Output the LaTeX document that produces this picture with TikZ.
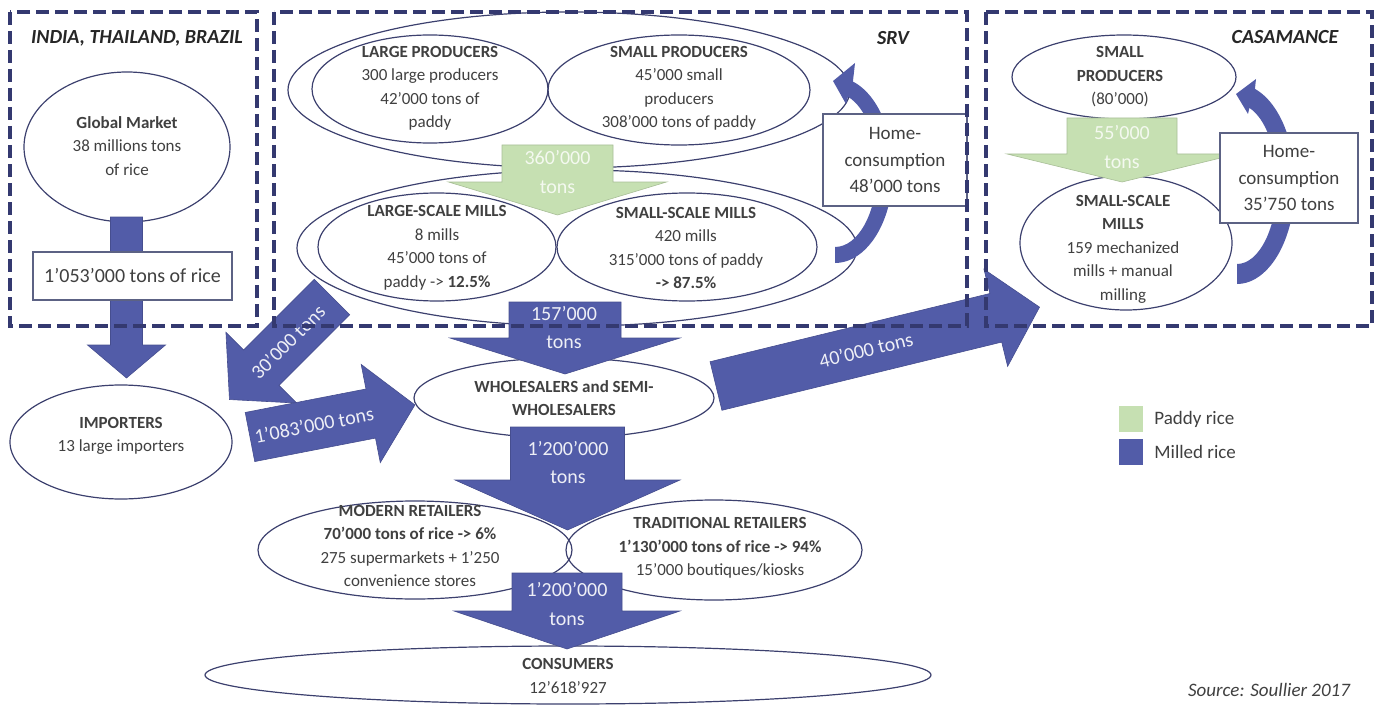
\documentclass[tikz,border=0pt]{standalone}
\usepackage{fontspec}
\setmainfont{Carlito}
\usetikzlibrary{shapes.geometric,positioning}

\definecolor{milled}{RGB}{82,92,168}
\definecolor{paddy}{RGB}{198,224,178}
\definecolor{frame}{RGB}{52,57,112}
\definecolor{rim}{RGB}{60,64,110}
\definecolor{ink}{RGB}{64,64,64}
\definecolor{boxrim}{RGB}{92,98,132}

\tikzset{
  oval/.style={ellipse, draw=rim, line width=1.2pt, inner sep=0pt},
  txt/.style={text=ink, align=center, inner sep=0pt, font=\fontsize{17}{23.5}\selectfont},
  region/.style={draw=frame, line width=3.5pt, dash pattern=on 13pt off 6pt},
  regionname/.style={text=black!85, inner sep=0pt, font=\fontsize{20}{24}\selectfont\bfseries\itshape},
  infobox/.style={draw=boxrim, line width=1.1pt, fill=white, text=ink, align=center, inner sep=0pt, font=\fontsize{19}{26.5}\selectfont},
  flowtxt/.style={text=white!90!milled, align=center, inner sep=0pt, font=\fontsize{20}{28.5}\selectfont},
  paddytxt/.style={flowtxt, text=white!80!paddy},
  key/.style={minimum width=24pt, minimum height=26pt, inner sep=0pt},
  keytxt/.style={text=ink, inner sep=0pt, font=\fontsize{19}{22}\selectfont},
}

% block arrow pointing down: colour, x, top, shoulder, tip, half shaft, half head
\newcommand{\downblock}[7]{%
  \filldraw[fill=#1, draw=#1!85!black, line width=0.6pt] (#2-#6,#3) -- (#2+#6,#3) -- (#2+#6,#4)
    -- (#2+#7,#4) -- (#2,#5) -- (#2-#7,#4) -- (#2-#6,#4) -- cycle;}
% tilted block arrow: tail middle, angle, length
\newcommand{\tiltblock}[3]{%
  \filldraw[fill=milled, draw=milled!85!black, line width=0.6pt, shift={#1}, rotate=#2]
    (0,-25) -- (#3-45,-25) -- (#3-45,-50) -- (#3,0) -- (#3-45,50) -- (#3-45,25) -- (0,25) -- cycle;}

\begin{document}
\begin{tikzpicture}[x=1pt, y=-1pt]
\useasboundingbox (0,0) rectangle (1384,706);

% ovals
\node[oval, minimum width=206pt, minimum height=150pt] (glob) at (127,147) {};
\node[oval, minimum width=222pt, minimum height=114pt] (imp) at (121,442) {};
\node[oval, minimum width=562pt, minimum height=156pt] (prodall) at (569,90) {};
\node[oval, minimum width=236pt, minimum height=108pt] (lprod) at (430,89) {};
\node[oval, minimum width=262pt, minimum height=110pt] (sprod) at (679,90) {};
\node[oval, minimum width=560pt, minimum height=156pt] (millall) at (577,248) {};
\node[oval, minimum width=238pt, minimum height=108pt] (lmill) at (437,247) {};
\node[oval, minimum width=260pt, minimum height=108pt] (smill) at (687,247) {};
\node[oval, minimum width=300pt, minimum height=80pt] (whole) at (564,398) {};
\node[oval, minimum width=314pt, minimum height=98pt] (modret) at (415,550) {};
\node[oval, minimum width=296pt, minimum height=100pt] (tradret) at (714,550) {};
\node[oval, minimum width=726pt, minimum height=58pt] (cons) at (568,675) {};
\node[oval, minimum width=224pt, minimum height=84pt] (cprod) at (1124,77) {};
\node[oval, minimum width=212pt, minimum height=134pt] (cmill) at (1126,243) {};

\node[txt] (glob-t) at (127,146) {\textbf{Global Market}\\38 millions tons\\of rice};
\node[txt] (imp-t) at (121,436) {\textbf{IMPORTERS}\\13 large importers};
\node[txt] (lprod-t) at (430,88.5) {\textbf{LARGE PRODUCERS}\\300 large producers\\42’000 tons of\\paddy};
\node[txt] (sprod-t) at (679,88.5) {\textbf{SMALL PRODUCERS}\\45’000 small\\producers\\308’000 tons of paddy};
\node[txt] (lmill-t) at (437,248) {\textbf{LARGE-SCALE MILLS}\\8 mills\\45’000 tons of\\paddy -> \textbf{12.5\%}};
\node[txt] (smill-t) at (686,248) {\textbf{SMALL-SCALE MILLS}\\420 mills\\315’000 tons of paddy\\\textbf{-> 87.5\%}};
\node[txt] (whole-t) at (564,398) {\textbf{WHOLESALERS and SEMI-}\\\textbf{WHOLESALERS}};
\node[txt] (modret-t) at (410,546) {\textbf{MODERN RETAILERS}\\\textbf{70’000 tons of rice -> 6\%}\\275 supermarkets + 1’250\\convenience stores};
\node[txt] (tradret-t) at (720,548) {\textbf{TRADITIONAL RETAILERS}\\\textbf{1’130’000 tons of rice -> 94\%}\\15’000 boutiques/kiosks};
\node[txt] (cons-t) at (568,676) {\textbf{CONSUMERS}\\12’618’927};
\node[txt] (cprod-t) at (1120,77) {\textbf{SMALL}\\\textbf{PRODUCERS}\\(80’000)};
\node[txt] (cmill-t) at (1123,249) {\textbf{SMALL-SCALE}\\\textbf{MILLS}\\159 mechanized\\mills + manual\\milling};

% paddy flows
\downblock{paddy}{557.5}{145}{182}{215}{55.5}{109}
\downblock{paddy}{1122}{118}{154}{182}{55}{115}
% milled flows
\downblock{milled}{126.5}{217}{345}{378}{16}{39}
\downblock{milled}{565}{302}{338}{374}{56}{115}
\downblock{milled}{567.5}{427}{480}{530}{57}{112.5}
\downblock{milled}{567}{573}{611}{649}{55}{113}
\tiltblock{(332,297)}{225}{145}
\tiltblock{(250,437)}{11}{168}
\tiltblock{(716,386)}{13.7}{333}

% home consumption loops
\fill[milled] (835,170) ++(-72:58 and 93) arc[start angle=-72, end angle=90, x radius=58, y radius=93]
  -- ++(0,-16) arc[start angle=90, end angle=-72, x radius=42, y radius=77]
  -- (846,104) -- (833,81) -- (855,63) -- cycle;
\fill[milled] (1237,184) ++(-72:58 and 100) arc[start angle=-72, end angle=90, x radius=58, y radius=100]
  -- ++(0,-20) arc[start angle=90, end angle=-72, x radius=40, y radius=80]
  -- (1248,114) -- (1236,94) -- (1256,79) -- cycle;

% flow labels
\node[paddytxt] (t360) at (557.5,172) {360’000\\tons};
\node[paddytxt] (t55) at (1122,147) {55’000\\tons};
\node[flowtxt] (t157) at (564,327.5) {157’000\\tons};
\node[flowtxt] (t1200a) at (568,462.5) {1’200’000\\tons};
\node[flowtxt] (t1200b) at (567,604) {1’200’000\\tons};
\node[flowtxt, rotate=45] (t30) at (288,342) {30’000 tons};
\node[flowtxt, rotate=11] (t1083) at (314,425) {1’083’000 tons};
\node[flowtxt, rotate=13.7] (t40) at (866,350) {40’000 tons};

% boxes
\node[infobox, minimum width=199pt, minimum height=48pt, font=\fontsize{20}{24}\selectfont] (impflow) at (132.5,276) {1’053’000 tons of rice};
\node[infobox, minimum width=144pt, minimum height=92pt] (srvhome) at (895,160) {Home-\\consumption\\48’000 tons};
\node[infobox, minimum width=138pt, minimum height=90pt] (casahome) at (1289,178) {Home-\\consumption\\35’750 tons};

% regions
\draw[region] (10,12) rectangle (257,326);
\draw[region] (274,12) rectangle (967,326);
\draw[region] (986,12) rectangle (1372,326);
\node[regionname] (india) at (137,38) {INDIA, THAILAND, BRAZIL};
\node[regionname] (srv) at (893,38) {SRV};
\node[regionname] (casa) at (1285,37) {CASAMANCE};

% legend
\node[key, fill=paddy] (keypaddy) at (1131,419) {};
\node[key, fill=milled, below=7pt of keypaddy] (keymilled) {};
\node[keytxt, right=11pt of keypaddy] (keypaddy-t) {Paddy rice};
\node[keytxt, right=11pt of keymilled] (keymilled-t) {Milled rice};

\node[keytxt, font=\fontsize{19}{22}\selectfont\itshape] (src) at (1269,690) {Source: Soullier 2017};
\end{tikzpicture}
\end{document}
